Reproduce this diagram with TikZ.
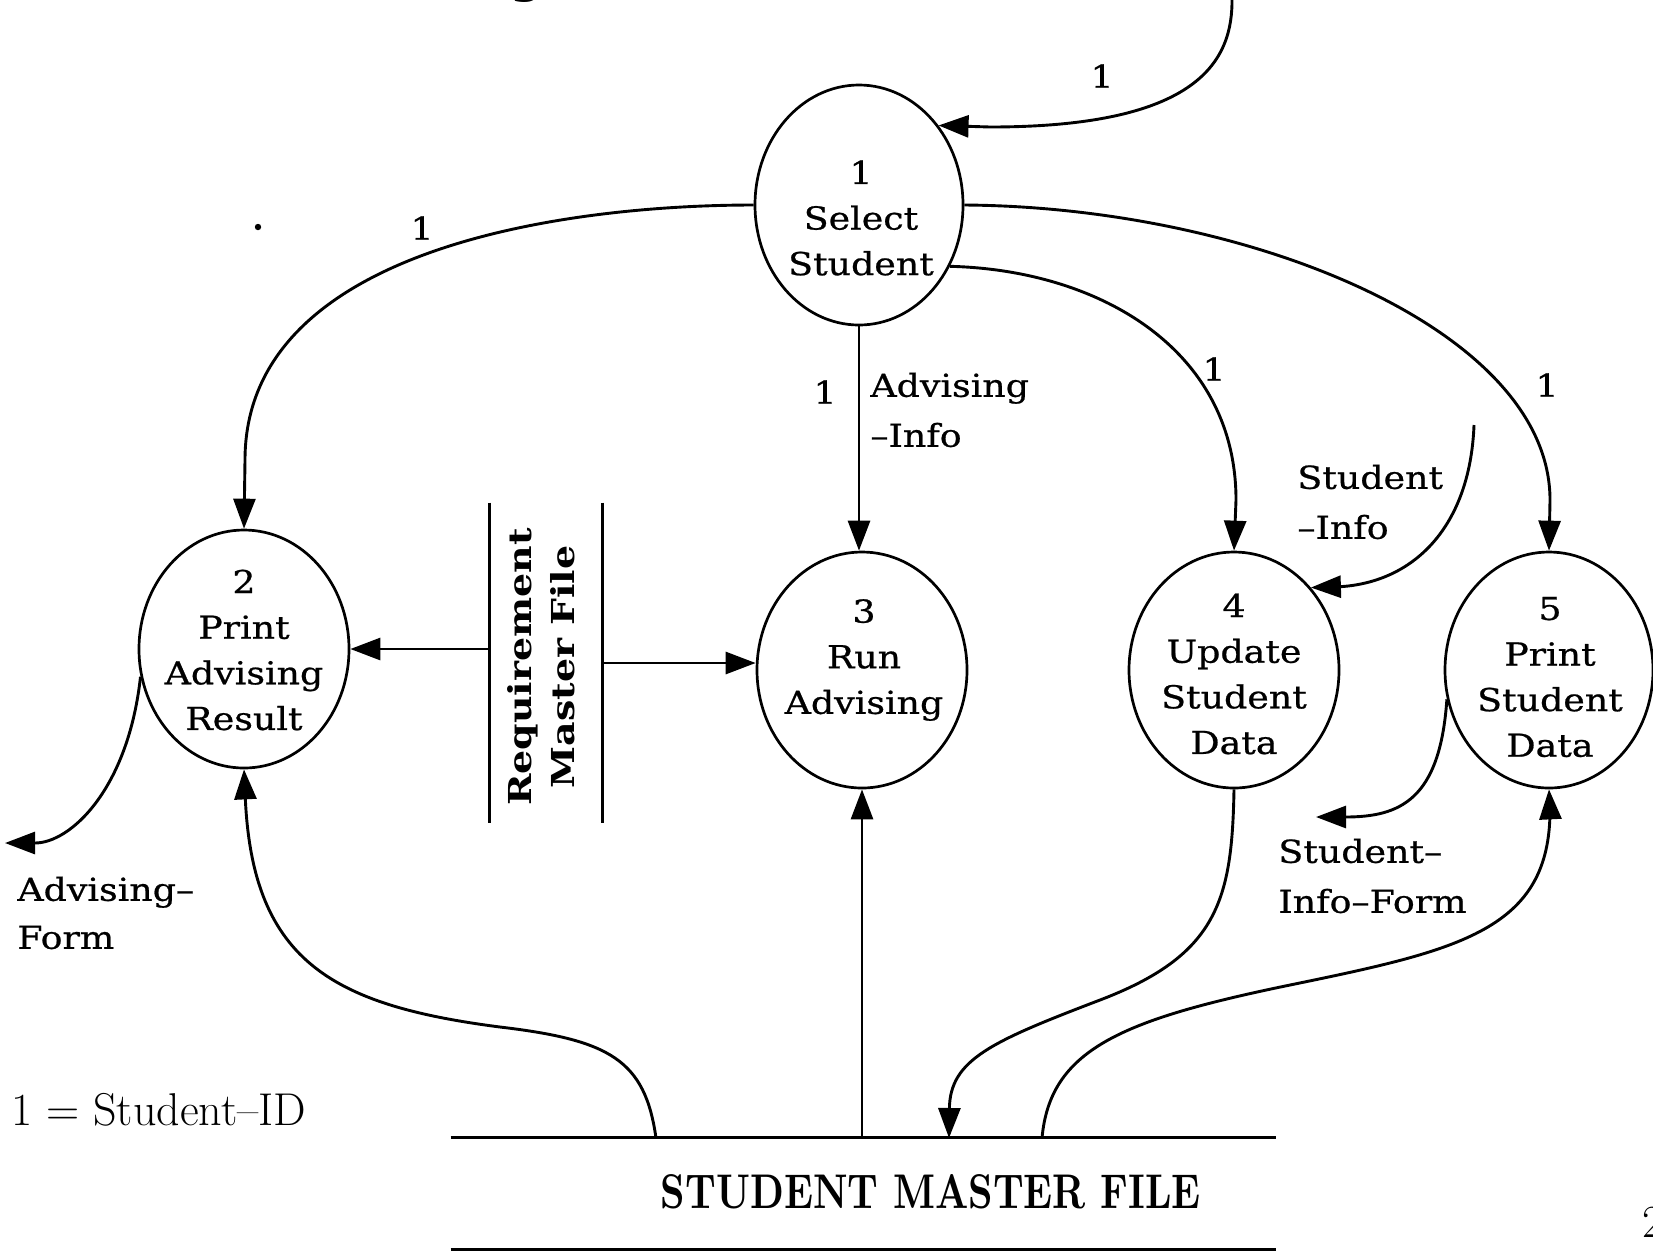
\documentclass[tikz,border=0pt]{standalone}
\usepackage{fontspec}
\usetikzlibrary{shapes.geometric,arrows.meta}
\newfontfamily\lbl{DejaVu Serif}[FakeStretch=1.15,FakeBold=0.7]
\newfontfamily\lblb{DejaVu Serif}[FakeStretch=1.2]
\begin{document}
\begin{tikzpicture}[x=0.5pt,y=-0.5pt,
  proc/.style={ellipse, draw, line width=1.35pt, inner sep=0pt},
  ptxt/.style={font=\lbl\fontsize{15.8}{22.8}\selectfont, align=center, inner sep=0pt},
  lab/.style={font=\lbl\fontsize{15.8}{25}\selectfont, align=left, inner sep=0pt},
  flow/.style={line width=1.45pt, -{Triangle[length=15pt,width=11pt]}},
  wire/.style={line width=1.45pt},
]
\useasboundingbox (0,0) rectangle (1653,1255);

% processes
\node[proc, minimum width=104pt, minimum height=120pt] (p1) at (859,205) {};
\node[proc, minimum width=105pt, minimum height=119pt] (p2) at (244,649) {};
\node[proc, minimum width=105pt, minimum height=118pt] (p3) at (862,670) {};
\node[proc, minimum width=105pt, minimum height=118pt] (p4) at (1234,670) {};
\node[proc, minimum width=104pt, minimum height=118pt] (p5) at (1549,670) {};

\node[ptxt] (t1) at (861,218) {1\\Select\\Student};
\node[ptxt] (t2) at (244,650) {2\\Print\\Advising\\Result};
\node[ptxt] (t3) at (864,660) {3\\Run\\Advising};
\node[ptxt] (t4) at (1234,674) {4\\Update\\Student\\Data};
\node[ptxt] (t5) at (1550,677) {5\\Print\\Student\\Data};

% requirement master file (open-ended store)
\node[minimum width=56pt, minimum height=160pt, inner sep=0pt] (rmf) at (546,663) {};
\draw[wire] (rmf.north west) -- (rmf.south west);
\draw[wire] (rmf.north east) -- (rmf.south east);
\node[rotate=90, font=\lblb\bfseries\fontsize{15.8}{21.5}\selectfont, align=center, inner sep=0pt]
  (rmft) at (541,667) {Requirement\\Master File};

% student master file
\node[minimum width=412.5pt, minimum height=55.5pt, inner sep=0pt] (smf) at (863.5,1193.5) {};
\draw[wire] (smf.north west) -- (smf.north east);
\draw[wire] (smf.south west) -- (smf.south east);
\node[inner sep=0pt] (smft) at (931,1192) {\resizebox{270pt}{17pt}{\bfseries STUDENT MASTER FILE}};

% free ends
\coordinate (in1) at (1232,-2);
\coordinate (si) at (1474,425);
\coordinate (af) at (5,843);
\coordinate (sif) at (1316,817);
\coordinate (s2) at (656,1138);
\coordinate (s4) at (949,1138);
\coordinate (s5) at (1042,1138);

% flows
\draw[flow] (in1) .. controls (1233,60) and (1200,127) .. (990,127) -- (p1.45);
\node[lab] (l1a) at (1102,76) {1};

\draw[flow] (p1.west) .. controls (560,205) and (245,250) .. (245,460) -- (p2.north);
\node[lab] (l1b) at (422,228) {1};

\draw[flow] (p1.south) -- (p1.south |- p3.north);
\node[lab] (l1c) at (825,392) {1};
\node[lab, anchor=west] (lai) at (870,410) {Advising\\–Info};

\draw[flow] (p1.-34) .. controls (1100,270) and (1236,350) .. (1236,500) -- (p4.north);
\node[lab] (l1d) at (1214,369) {1};

\draw[flow] (p1.east) .. controls (1250,207) and (1550,330) .. (1550,500) -- (p5.north);
\node[lab] (l1e) at (1547,385) {1};

\draw[flow] (si) .. controls (1470,530) and (1410,587) .. (1330,587) -- (p4.47);
\node[lab, anchor=west] (lsi) at (1297,502) {Student\\–Info};

\draw[flow] (rmf.west |- p2.east) -- (p2.east);
\draw[flow] (rmf.east) -- (rmf.east -| p3.west);

\draw[flow] (p2.195) .. controls (128,790) and (70,843) .. (35,843) -- (af);
\node[lab, anchor=west, font=\lbl\fontsize{15.8}{24}\selectfont] (laf) at (17,913) {Advising–\\Form};

\draw[flow] (s2) .. controls (645,1060) and (610,1040) .. (500,1027)
  .. controls (330,1005) and (250,960) .. (245,790) -- (p2.south);
\draw[flow] (p3.south |- smf.north) -- (p3.south);
\draw[flow] (p4.south) .. controls (1232,900) and (1218,955) .. (1100,1000)
  .. controls (990,1042) and (950,1060) .. (s4);
\draw[flow] (s5) .. controls (1050,1050) and (1120,1020) .. (1290,985)
  .. controls (1460,950) and (1550,930) .. (1550,810) -- (p5.south);

\draw[flow] (p5.196) .. controls (1440,800) and (1400,817) .. (1345,817) -- (sif);
\node[lab, anchor=west] (lsif) at (1278,876) {Student–\\Info–Form};

% key and page marks
\node[anchor=west, inner sep=0pt, font=\fontsize{23}{23}\selectfont] (key) at (11,1110) {1 = Student–ID};
\node[anchor=base west, inner sep=0pt, font=\fontsize{23}{23}\selectfont] (pg) at (1642,1237) {2};
\node[anchor=base, inner sep=0pt, font=\lblb\bfseries\fontsize{18}{18}\selectfont] (frag) at (527,-6) {g};
\fill (258,227) circle (1.6pt);
\end{tikzpicture}
\end{document}
